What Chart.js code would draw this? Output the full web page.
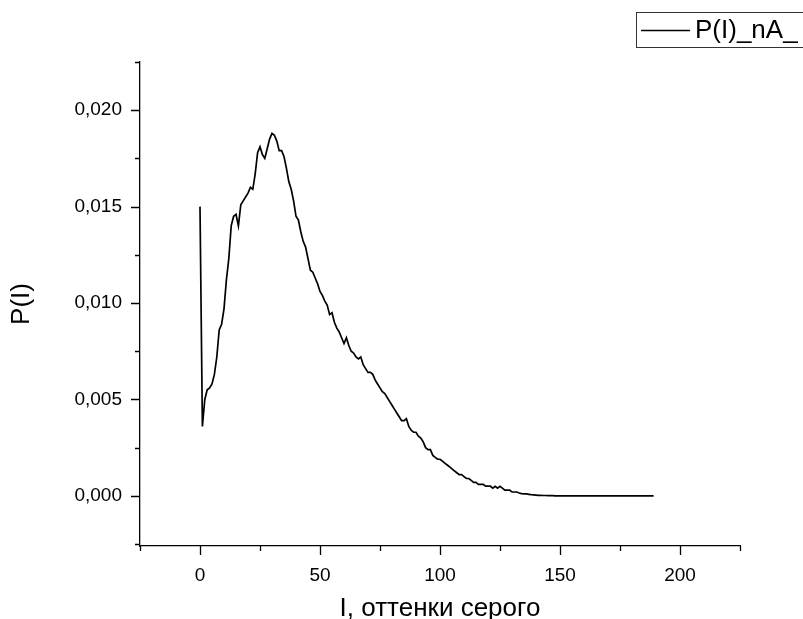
<!DOCTYPE html>
<html>
<head>
<meta charset="utf-8">
<script src="https://cdn.jsdelivr.net/npm/chart.js@4/dist/chart.umd.min.js"></script>
<style>
  html, body { margin: 0; padding: 0; background: #ffffff; }
  #wrap { width: 803px; height: 619px; position: relative; }
</style>
</head>
<body>
<div id="wrap"><canvas id="c" width="803" height="619"></canvas></div>
<script>
// ---- data ----
const seriesLabel = "P(I)_nA_";
const xTitle = "I, оттенки серого";
const yTitle = "P(I)";
const intensity = [];
for (let i = 0; i <= 189; i++) intensity.push(i);
const probability = [
  0.0150, 0.0036, 0.0050, 0.0055, 0.0056, 0.0058, 0.0063, 0.0072, 0.0086, 0.0089,
  0.0097, 0.0112, 0.0123, 0.0140, 0.0145, 0.0146, 0.0140, 0.0151, 0.0153, 0.0155,
  0.0157, 0.0160, 0.0159, 0.0167, 0.0178, 0.0181, 0.0177, 0.0175, 0.0180, 0.0185,
  0.0188, 0.0187, 0.0184, 0.0179, 0.0179, 0.0176, 0.0170, 0.0163, 0.0159, 0.0153,
  0.0145, 0.0143, 0.0137, 0.0132, 0.0129, 0.0123, 0.0117, 0.0116, 0.0113, 0.0110,
  0.0106, 0.0104, 0.0101, 0.0099, 0.0094, 0.0095, 0.0090, 0.0087, 0.0085, 0.0082,
  0.0079, 0.0082, 0.0078, 0.0075, 0.0074, 0.0072, 0.0071, 0.0072, 0.0068, 0.0066,
  0.0064, 0.0064, 0.0063, 0.0060, 0.0058, 0.0056, 0.0054, 0.0053, 0.0051, 0.0049,
  0.0047, 0.0045, 0.0043, 0.0041, 0.0039, 0.0039, 0.0040, 0.0036, 0.0034, 0.0033,
  0.0033, 0.0031, 0.0030, 0.0028, 0.0025, 0.0024, 0.0024, 0.0021, 0.0020, 0.0019,
  0.0019, 0.0018, 0.0017, 0.0016, 0.0015, 0.0014, 0.0013, 0.0012, 0.0011, 0.0011,
  0.0010, 0.0009, 0.0009, 0.0008, 0.0007, 0.0007, 0.0006, 0.0006, 0.0006, 0.0005,
  0.0005, 0.0005, 0.0004, 0.0005, 0.0004, 0.0005, 0.0004, 0.0003, 0.0003, 0.0003,
  0.0002, 0.0002, 0.0002, 0.00015, 0.00012, 0.0001, 0.0001, 0.00008, 0.00006, 0.00005,
  0.00004, 0.00003, 0.00003, 0.00002, 0.00002, 0.00001, 0.00001, 0.00001, 0, 0,
  0, 0, 0, 0, 0, 0, 0, 0, 0, 0,
  0, 0, 0, 0, 0, 0, 0, 0, 0, 0,
  0, 0, 0, 0, 0, 0, 0, 0, 0, 0,
  0, 0, 0, 0, 0, 0, 0, 0, 0, 0
];
const xMajorTicks = [0, 50, 100, 150, 200];
const xMinorTicks = [-25, 25, 75, 125, 175, 225];
const yMajorTicks = [0, 0.005, 0.010, 0.015, 0.020];
const yMinorTicks = [-0.0025, 0.0025, 0.0075, 0.0125, 0.0175, 0.0225];
const xRange = [-25, 225];
const yRange = [-0.0026, 0.0225];

const FONT = "'Liberation Sans', Arial, sans-serif";

const tickPlugin = {
  id: 'originTicks',
  afterDraw(chart) {
    const ctx = chart.ctx;
    const xs = chart.scales.x, ys = chart.scales.y;
    const ax = chart.chartArea.left, ay = chart.chartArea.bottom;
    ctx.save();
    ctx.strokeStyle = '#000';
    ctx.lineWidth = 1.3;
    ctx.beginPath();
    yMajorTicks.forEach(v => { const p = Math.round(ys.getPixelForValue(v)) + 0.5; ctx.moveTo(ax, p); ctx.lineTo(ax - 9, p); });
    yMinorTicks.forEach(v => { const p = Math.round(ys.getPixelForValue(v)) + 0.5; ctx.moveTo(ax, p); ctx.lineTo(ax - 5, p); });
    xMajorTicks.forEach(v => { const p = Math.round(xs.getPixelForValue(v)) + 0.5; ctx.moveTo(p, ay); ctx.lineTo(p, ay + 9); });
    xMinorTicks.forEach(v => { const p = Math.round(xs.getPixelForValue(v)) + 0.5; ctx.moveTo(p, ay); ctx.lineTo(p, ay + 5); });
    ctx.stroke();

    // legend box
    const bx = 636, by = 12, bw = 180, bh = 35;
    ctx.lineWidth = 1;
    ctx.strokeStyle = '#333';
    ctx.strokeRect(bx + 0.5, by + 0.5, bw, bh);
    ctx.strokeStyle = '#000';
    ctx.lineWidth = 1.6;
    ctx.beginPath();
    ctx.moveTo(641, 30.5);
    ctx.lineTo(690, 30.5);
    ctx.stroke();
    ctx.fillStyle = '#000';
    ctx.font = '26px ' + FONT;
    ctx.textBaseline = 'middle';
    ctx.textAlign = 'left';
    ctx.fillText(chart.data.datasets[0].label, 695, 31);
    ctx.restore();
  }
};

new Chart(document.getElementById('c'), {
  type: 'line',
  data: {
    datasets: [{
      label: seriesLabel,
      data: intensity.map((x, i) => ({ x: x, y: probability[i] })),
      borderColor: '#000',
      borderWidth: 1.7,
      pointRadius: 0,
      tension: 0,
      fill: false
    }]
  },
  options: {
    responsive: false,
    animation: false,
    devicePixelRatio: 1,
    layout: { padding: { top: 62, right: 63, left: 0, bottom: 0 } },
    plugins: { legend: { display: false }, tooltip: { enabled: false } },
    scales: {
      x: {
        type: 'linear',
        min: xRange[0], max: xRange[1],
        afterBuildTicks: s => { s.ticks = xMajorTicks.map(v => ({ value: v })); },
        afterFit: s => { s.height = 73; },
        grid: { display: false, drawTicks: false },
        border: { display: true, color: '#000', width: 1.3 },
        ticks: { color: '#000', font: { size: 19, family: FONT }, padding: 18, maxRotation: 0 },
        title: { display: true, text: xTitle, color: '#000', font: { size: 26, family: FONT, lineHeight: 0.77 }, padding: { top: 0, bottom: 0 } }
      },
      y: {
        type: 'linear',
        min: yRange[0], max: yRange[1],
        afterBuildTicks: s => { s.ticks = yMajorTicks.map(v => ({ value: v })); },
        afterFit: s => { s.width = 140; },
        grid: { display: false, drawTicks: false },
        border: { display: true, color: '#000', width: 1.3 },
        ticks: { color: '#000', font: { size: 19, family: FONT }, padding: 18,
          callback: v => v.toFixed(3).replace('.', ',') },
        title: { display: true, text: yTitle, color: '#000', font: { size: 26, family: FONT, lineHeight: 1 }, padding: { top: 9, bottom: 0 } }
      }
    }
  },
  plugins: [tickPlugin]
});
</script>
</body>
</html>
